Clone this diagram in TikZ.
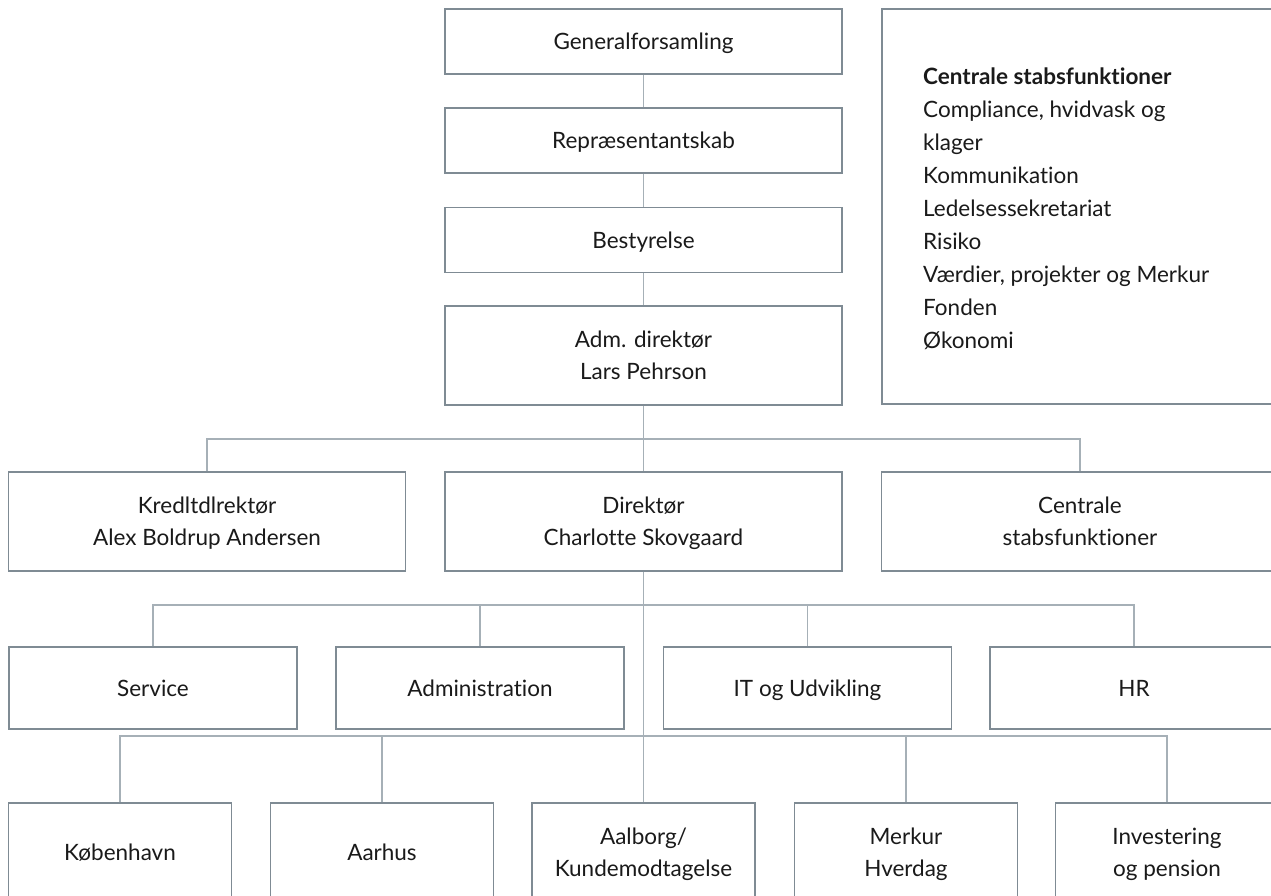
\documentclass[tikz,border=0pt]{standalone}
\usepackage{fontspec}
\setmainfont{Lato}[Ligatures={NoCommon,NoRare}]
\definecolor{boxc}{HTML}{7F8B94}
\definecolor{linec}{HTML}{A6B0B7}
\definecolor{txtc}{HTML}{1A1A1A}
\begin{document}
\begin{tikzpicture}[x=1pt,y=-1pt,
  orgbox/.style={draw=boxc, line width=1.5pt, rectangle, inner sep=0pt, align=center,
    text=txtc, text depth=0pt, font=\fontsize{22.5}{32}\selectfont},
  twoline/.style={text depth=-4pt},
  widebox/.style={orgbox, minimum width=397pt, minimum height=99pt},
  topbox/.style={orgbox, minimum width=397pt, minimum height=65pt},
  midbox/.style={orgbox, minimum width=288pt, minimum height=82pt},
  lowbox/.style={orgbox, minimum width=223pt, minimum height=99pt},
  conn/.style={draw=linec, line width=1.5pt}]
\useasboundingbox (0,0) rectangle (1271,896);
\clip (0,0) rectangle (1271,896);
\fill[white] (0,0) rectangle (1271,896);
% top chain
\node[topbox] (gen) at (643.5,41.5) {Generalforsamling};
\node[topbox] (rep) at (643.5,140.5) {Repræsentantskab};
\node[topbox] (bes) at (643.5,240) {Bestyrelse};
\node[widebox, twoline] (adm) at (643.5,355.5) {Adm. direktør\\Lars Pehrson};
% staff panel
\node[orgbox, minimum width=400pt, minimum height=395pt] (panel) at (1082,206.5) {};
\node[anchor=west, align=left, inner sep=0pt, text=txtc,
  font=\fontsize{22.5}{33}\selectfont] (panellist) at (923,209)
  {\textbf{Centrale stabsfunktioner}\\Compliance, hvidvask og\\klager\\Kommunikation\\Ledelsessekretariat\\Risiko\\Værdier, projekter og Merkur\\Fonden\\Økonomi};
% row 2
\node[widebox, twoline] (kred) at (207,521.5) {Kredltdlrektør\\Alex Boldrup Andersen};
\node[widebox, twoline] (dir) at (643.5,521.5) {Direktør\\Charlotte Skovgaard};
\node[widebox, twoline] (cen) at (1080,521.5) {Centrale\\stabsfunktioner};
% row 3
\node[midbox] (serv) at (153,688) {Service};
\node[midbox] (admi) at (480,688) {Administration};
\node[midbox] (it) at (807.5,688) {IT og Udvikling};
\node[midbox] (hr) at (1134,688) {HR};
% row 4
\node[lowbox] (kbh) at (120,852.5) {København};
\node[lowbox] (aar) at (382,852.5) {Aarhus};
\node[lowbox, twoline] (aal) at (643.5,852.5) {Aalborg/\\Kundemodtagelse};
\node[lowbox, twoline] (mer) at (906,852.5) {Merkur\\Hverdag};
\node[lowbox, twoline] (inv) at (1167,852.5) {Investering\\og pension};
% bus coordinates
\coordinate (b1) at (643.5,439);
\coordinate (b2) at (643.5,605);
\coordinate (b3) at (643.5,736);
% connectors
\draw[conn] (gen.south) -- (rep.north);
\draw[conn] (rep.south) -- (bes.north);
\draw[conn] (bes.south) -- (adm.north);
\draw[conn] (adm.south) -- (dir.north);
\draw[conn] (kred.north) |- (b1) -| (cen.north);
\draw[conn] (dir.south) -- (aal.north);
\draw[conn] (serv.north) |- (b2) -| (hr.north);
\draw[conn] (admi.north) -- (admi.north |- b2);
\draw[conn] (it.north) -- (it.north |- b2);
\draw[conn] (kbh.north) |- (b3) -| (inv.north);
\draw[conn] (aar.north) -- (aar.north |- b3);
\draw[conn] (mer.north) -- (mer.north |- b3);
\end{tikzpicture}
\end{document}
